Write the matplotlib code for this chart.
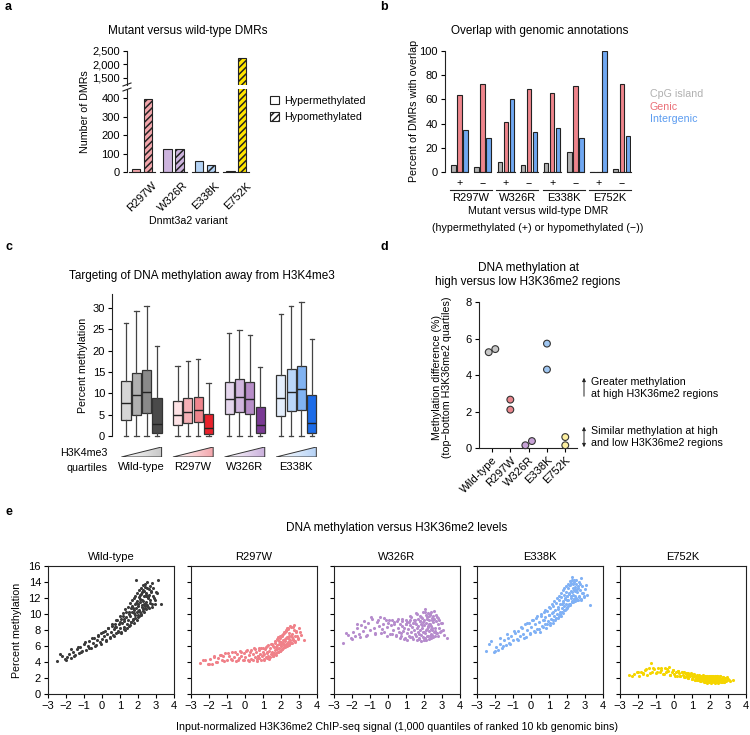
import numpy as np
import matplotlib.pyplot as plt
from matplotlib.patches import Patch, Polygon, FancyArrowPatch
from matplotlib.lines import Line2D
from matplotlib.colors import LinearSegmentedColormap
import matplotlib.transforms as mtransforms

plt.rcParams['font.family'] = ['Liberation Sans', 'DejaVu Sans']
plt.rcParams['font.size'] = 7.7
plt.rcParams['xtick.labelsize'] = 8
plt.rcParams['ytick.labelsize'] = 8
plt.rcParams['axes.linewidth'] = 0.8
plt.rcParams['axes.edgecolor'] = '#222222'
plt.rcParams['xtick.major.width'] = 0.8
plt.rcParams['ytick.major.width'] = 0.8
plt.rcParams['xtick.major.size'] = 3
plt.rcParams['ytick.major.size'] = 3
plt.rcParams['xtick.major.pad'] = 2
plt.rcParams['ytick.major.pad'] = 2
plt.rcParams['hatch.linewidth'] = 1.1

# ---- panel a: DMR counts
variants = ['R297W', 'W326R', 'E338K', 'E752K']
dmr_hyper = [15, 122, 62, 3]
dmr_hypo = [395, 125, 40, 2220]
variant_colors = ['#f4a6ac', '#cdb4de', '#b4d3f5', '#ffe500']

# ---- panel b: overlap with annotations (+ hyper, - hypo per variant)
dmr_signs = ['+', '\u2212'] * 4
cpg_pct = [5.5, 4, 8.5, 6, 7.5, 16.5, 0, 2.5]
genic_pct = [64, 73, 41, 69, 65, 71, 0, 73]
intergenic_pct = [35, 28, 60, 33, 36.5, 28.5, 100, 29.5]

# ---- panel c: boxplots by H3K4me3 quartile
c_groups = ['Wild-type', 'R297W', 'W326R', 'E338K']
c_q1 = [[3.7, 5.0, 5.4, 0.6], [2.5, 3.1, 3.2, 0.4], [5.1, 5.7, 5.1, 0.6], [4.7, 5.8, 6.1, 0.6]]
c_med = [[7.7, 9.5, 10.4, 2.8], [5.0, 5.6, 6.0, 1.8], [8.6, 9.2, 8.7, 2.5], [9.0, 10.4, 11.1, 3.0]]
c_q3 = [[12.9, 14.7, 15.5, 8.8], [8.1, 8.9, 9.1, 5.2], [12.7, 13.4, 12.6, 6.9], [14.3, 15.6, 16.3, 9.5]]
c_whi = [[26.4, 29.2, 30.6, 21.1], [16.5, 17.7, 18.0, 12.4], [24.1, 24.9, 23.8, 16.1], [28.6, 30.5, 31.5, 22.7]]
c_colors = [['#d6d6d6', '#b0b0b0', '#8a8a8a', '#4a4a4a'],
            ['#fde2e5', '#f5b0b6', '#ef858d', '#e8212b'],
            ['#e5d6ed', '#d1b6de', '#b78dc8', '#7a3a94'],
            ['#e4eefc', '#bad6f8', '#81b3f2', '#1c6ce8']]
c_tri_colors = ['#c8c8c8', '#f3a5ab', '#c9aedb', '#b5d2f6']

# ---- panel d: methylation difference, two replicates
d_cats = ['Wild-type', 'R297W', 'W326R', 'E338K', 'E752K']
d_rep1 = [5.25, 2.65, 0.15, 5.72, 0.6]
d_rep2 = [5.42, 2.1, 0.38, 4.3, 0.15]
d_colors = ['#c8c8c8', '#e8868d', '#c7a2d6', '#9fc6f1', '#fcefa0']

# ---- panel e: methylation vs H3K36me2 quantiles
e_titles = ['Wild-type', 'R297W', 'W326R', 'E338K', 'E752K']
e_colors = ['#3a3a3a', '#f08189', '#b68ccd', '#80b1f5', '#f5d500']
e_x = [-2.5, -2.2, -2.05, -1.95, -1.85, -1.7, -1.6, -1.5, -1.4, -1.3,
       -1.2, -1.1, -1.0, -0.9, -0.8, -0.7, -0.6, -0.5, -0.42, -0.35,
       -0.28, -0.2, -0.12, -0.05, 0.02, 0.1, 0.17, 0.24, 0.3, 0.36,
       0.42, 0.48, 0.54, 0.6, 0.65, 0.7, 0.75, 0.8, 0.85, 0.9,
       0.95, 1.0, 1.04, 1.08, 1.12, 1.16, 1.2, 1.24, 1.28, 1.32,
       1.36, 1.4, 1.44, 1.48, 1.52, 1.56, 1.6, 1.63, 1.66, 1.69,
       1.72, 1.75, 1.78, 1.81, 1.84, 1.87, 1.9, 1.93, 1.96, 1.99,
       2.02, 2.05, 2.08, 2.11, 2.14, 2.17, 2.2, 2.23, 2.26, 2.29,
       2.32, 2.35, 2.38, 2.41, 2.44, 2.47, 2.5, 2.54, 2.58, 2.62,
       2.66, 2.7, 2.75, 2.8, 2.86, 2.92, 3.0, 3.1, 3.3,
       -2.35, -2.0, -1.75, -1.55, -1.35, -1.15, -0.95, -0.75, -0.55, -0.38,
       -0.24, -0.08, 0.06, 0.2, 0.33, 0.45, 0.57, 0.68, 0.78, 0.88,
       0.98, 1.06, 1.14, 1.22, 1.3, 1.38, 1.46, 1.54, 1.58, 1.62,
       1.68, 1.74, 1.8, 1.83, 1.86, 1.92, 1.95, 1.98, 2.0, 2.04,
       2.07, 2.1, 2.13, 2.16, 2.19, 2.22, 2.25, 2.28, 2.31, 2.34,
       2.37, 2.4, 2.43, 2.46, 2.49, 2.52, 2.56, 2.6, 2.64, 2.68,
       2.72, 2.78, 2.84, 2.9, 2.96, 3.05, 1.5, 1.7, 1.9, 2.1,
       2.3, 2.45, 2.6, 1.2, 1.0, 0.7, 2.2, 2.0, 1.8, 2.4]
e_wt = [4.1, 4.8, 4.4, 4.6, 5.0, 4.5, 5.3, 4.9, 5.6, 5.1,
        5.9, 5.4, 6.2, 5.5, 6.0, 6.6, 5.8, 6.4, 7.0, 6.1,
        6.8, 7.3, 6.5, 7.6, 6.9, 7.2, 7.9, 6.7, 7.5, 8.2,
        7.1, 7.8, 8.5, 7.4, 8.1, 8.8, 7.6, 8.4, 9.2, 7.9,
        8.7, 8.2, 9.4, 7.8, 8.9, 9.8, 8.4, 9.1, 8.0, 9.6,
        10.3, 8.7, 9.3, 10.0, 8.5, 9.8, 10.7, 9.0, 10.2, 11.0,
        9.4, 10.5, 8.9, 11.3, 9.9, 10.8, 14.3, 10.3, 11.6, 9.6,
        11.0, 12.1, 10.5, 11.5, 9.9, 12.5, 10.9, 11.8, 13.0, 10.4,
        12.2, 11.2, 13.4, 10.8, 12.6, 11.5, 14.0, 12.0, 10.9, 13.1,
        11.8, 12.7, 11.3, 13.9, 12.3, 11.7, 12.8, 14.3, 11.3,
        5.0, 4.3, 5.6, 4.8, 5.9, 5.2, 6.5, 5.7, 7.0, 6.0,
        7.4, 6.3, 7.8, 6.6, 8.3, 7.0, 8.8, 7.3, 9.3, 7.8,
        9.7, 7.6, 10.1, 8.1, 10.6, 8.3, 10.9, 8.6, 11.4, 9.0,
        11.7, 9.2, 12.0, 9.5, 12.3, 9.3, 12.6, 9.9, 11.2, 13.0,
        9.8, 12.4, 10.2, 13.3, 10.0, 12.8, 10.6, 13.6, 10.3, 12.9,
        11.0, 13.8, 10.6, 12.4, 13.2, 11.1, 12.1, 10.7, 13.5, 11.4,
        12.9, 10.9, 13.3, 12.0, 11.2, 12.6, 10.2, 10.8, 11.4, 11.9,
        11.6, 12.2, 12.4, 9.4, 9.0, 8.4, 11.1, 10.4, 10.1, 11.3]
e_r297w = [3.9, 4.2, 3.7, 4.4, 3.8, 4.6, 4.0, 4.5, 4.9, 4.2,
           4.7, 5.1, 4.3, 4.8, 4.4, 5.2, 4.6, 4.1, 5.0, 4.5,
           5.4, 4.7, 4.2, 5.1, 4.6, 5.5, 4.3, 4.9, 5.3, 4.4,
           5.0, 5.7, 4.6, 5.2, 4.1, 4.8, 5.5, 4.5, 5.0, 5.8,
           4.7, 5.3, 4.2, 5.0, 5.6, 4.6, 5.2, 6.0, 4.8, 5.4,
           4.4, 5.7, 5.0, 6.2, 5.3, 4.7, 5.9, 5.1, 6.4, 5.5,
           4.9, 6.1, 5.6, 6.8, 5.2, 6.3, 5.8, 7.0, 5.4, 6.5,
           6.0, 7.3, 5.6, 6.7, 6.1, 7.6, 5.9, 6.9, 6.3, 7.9,
           6.0, 7.1, 6.5, 8.1, 6.2, 7.3, 6.7, 8.4, 6.4, 7.5,
           6.9, 8.6, 7.2, 6.6, 7.8, 7.0, 8.3, 7.4, 6.8,
           4.3, 3.7, 4.7, 4.0, 4.9, 4.1, 5.1, 4.2, 5.2, 4.3,
           5.3, 4.2, 5.4, 4.1, 5.5, 4.3, 5.6, 4.4, 5.7, 4.3,
           5.8, 4.4, 5.9, 4.5, 6.1, 4.6, 6.3, 4.8, 6.0, 5.0,
           6.6, 5.1, 6.9, 5.3, 7.1, 5.4, 7.2, 5.5, 6.3, 7.4,
           5.6, 7.5, 5.8, 7.7, 5.9, 7.8, 6.0, 8.0, 6.2, 8.2,
           6.3, 8.3, 6.1, 7.6, 8.5, 6.5, 7.2, 6.4, 8.4, 6.7,
           8.0, 6.5, 7.9, 7.3, 6.9, 7.7, 5.0, 5.9, 6.6, 6.4,
           7.0, 6.9, 7.1, 5.1, 4.9, 4.7, 6.6, 6.2, 5.7, 7.0]
e_w326r = [6.4, 7.4, 7.0, 7.8, 7.2, 8.2, 7.5, 8.6, 7.9, 8.4,
           7.3, 8.9, 8.0, 9.4, 8.3, 7.6, 9.0, 8.5, 9.6, 8.1,
           8.8, 7.7, 9.2, 8.4, 8.9, 7.5, 8.6, 9.3, 8.0, 8.7,
           7.4, 9.1, 8.2, 7.8, 8.8, 7.2, 8.5, 9.4, 7.9, 8.3,
           7.0, 8.7, 7.6, 9.0, 8.1, 7.3, 8.6, 9.7, 7.8, 8.4,
           7.1, 8.9, 8.0, 9.3, 7.5, 8.7, 8.2, 10.0, 7.7, 8.5,
           6.9, 9.1, 8.0, 8.8, 7.4, 9.5, 8.3, 7.8, 9.0, 6.8,
           8.6, 10.2, 7.6, 8.9, 8.1, 9.6, 7.3, 8.4, 9.2, 7.9,
           8.7, 10.0, 7.5, 8.5, 9.3, 8.0, 9.0, 7.7, 10.4, 8.3,
           9.1, 7.6, 8.8, 9.5, 8.2, 7.9, 8.9, 7.4, 7.0,
           7.6, 6.9, 8.8, 7.1, 9.1, 7.4, 9.6, 7.5, 9.3, 7.6,
           9.5, 7.3, 9.2, 7.5, 9.0, 7.2, 9.4, 7.0, 9.1, 6.9,
           9.3, 6.8, 9.0, 7.1, 9.6, 6.9, 9.2, 7.2, 10.1, 6.7,
           9.4, 7.0, 9.8, 6.6, 9.6, 7.1, 10.3, 6.8, 9.2, 10.6,
           7.0, 9.9, 6.7, 9.4, 7.2, 10.1, 6.9, 9.7, 7.3, 9.9,
           7.0, 10.3, 7.4, 9.5, 9.8, 7.1, 9.4, 7.3, 9.9, 7.6,
           9.6, 7.2, 9.3, 7.8, 8.9, 8.0, 8.9, 7.5, 8.6, 8.0,
           8.7, 8.2, 7.9, 9.2, 8.7, 7.6, 8.5, 7.8, 9.1, 8.1]
e_e338k = [5.4, 6.6, 5.2, 5.9, 5.5, 6.3, 5.8, 6.7, 6.1, 7.0,
           6.4, 7.3, 6.7, 7.6, 6.9, 7.9, 7.2, 8.3, 7.5, 8.7,
           7.1, 8.0, 8.9, 7.6, 8.4, 9.2, 7.9, 8.7, 9.5, 8.1,
           9.0, 7.7, 9.8, 8.5, 9.3, 10.2, 8.8, 9.6, 8.3, 10.4,
           9.1, 9.9, 8.6, 10.7, 9.4, 10.1, 8.9, 11.0, 9.7, 10.5,
           9.2, 11.4, 10.0, 10.9, 9.5, 11.8, 10.3, 11.2, 9.8, 12.1,
           10.7, 11.6, 10.1, 12.4, 11.0, 12.0, 10.5, 12.8, 11.3, 12.3,
           10.8, 13.2, 11.7, 12.6, 11.1, 13.6, 12.0, 12.9, 14.6, 11.5,
           13.2, 12.4, 14.3, 11.9, 13.0, 12.2, 13.8, 11.7, 12.8, 13.5,
           12.1, 13.0, 11.8, 14.5, 12.6, 12.1, 13.1, 12.4, 11.1,
           6.2, 5.4, 7.0, 6.0, 7.5, 6.3, 7.9, 6.7, 8.4, 7.0,
           8.9, 7.5, 9.3, 7.8, 9.7, 8.1, 10.0, 8.4, 10.5, 8.7,
           10.9, 8.9, 11.2, 9.3, 11.6, 9.5, 12.0, 9.8, 12.3, 10.0,
           12.6, 10.2, 13.0, 10.5, 13.3, 10.6, 13.5, 10.9, 12.2, 13.8,
           11.0, 13.6, 11.3, 14.1, 11.2, 13.9, 11.6, 14.3, 11.5, 13.7,
           11.9, 14.0, 11.6, 13.4, 14.2, 12.0, 13.1, 11.8, 14.0, 12.3,
           13.8, 11.9, 13.5, 12.6, 12.2, 13.6, 10.6, 11.3, 11.9, 12.5,
           12.7, 12.9, 13.3, 10.3, 9.9, 9.3, 12.2, 11.8, 11.4, 13.0]
e_e752k = [2.4, 2.5, 2.7, 2.3, 2.8, 2.6, 3.0, 2.4, 3.2, 3.9,
           2.7, 3.1, 2.6, 3.3, 2.8, 3.0, 2.5, 3.2, 2.7, 2.9,
           3.4, 2.4, 2.8, 3.0, 2.5, 2.7, 2.3, 2.9, 2.6, 2.2,
           2.7, 2.4, 2.8, 2.1, 2.5, 2.3, 2.6, 2.0, 2.4, 2.2,
           2.6, 1.9, 2.3, 2.1, 2.5, 1.8, 2.2, 2.0, 2.4, 1.7,
           2.1, 1.9, 2.3, 1.6, 2.0, 2.2, 1.8, 2.4, 1.7, 2.0,
           1.5, 2.2, 1.9, 1.7, 2.3, 1.6, 2.0, 1.8, 2.2, 1.5,
           1.9, 2.1, 1.7, 2.3, 1.6, 1.9, 2.1, 1.5, 1.8, 2.2,
           1.7, 2.0, 1.6, 2.3, 1.8, 1.5, 2.0, 1.7, 2.2, 1.9,
           1.6, 2.1, 1.8, 1.5, 2.0, 1.7, 1.9, 1.6, 1.8,
           2.2, 2.8, 2.5, 3.1, 2.6, 3.3, 2.7, 3.2, 2.5, 3.1,
           2.4, 3.0, 2.3, 2.9, 2.2, 2.7, 2.1, 2.6, 2.0, 2.5,
           1.9, 2.4, 1.8, 2.3, 1.7, 2.4, 1.6, 2.3, 1.7, 2.2,
           1.5, 2.3, 1.6, 2.2, 1.4, 2.1, 1.5, 2.3, 1.6, 2.2,
           1.4, 2.1, 1.5, 2.3, 1.6, 2.0, 1.4, 2.2, 1.5, 2.1,
           1.6, 2.2, 1.4, 2.0, 2.1, 1.5, 2.2, 1.6, 1.9, 1.5,
           2.1, 1.5, 2.0, 1.6, 2.1, 1.7, 1.7, 2.3, 2.1, 1.7,
           1.6, 2.0, 1.5, 1.9, 2.5, 2.6, 1.8, 2.0, 1.6, 2.2]

W, H = 750, 735
fig = plt.figure(figsize=(7.5, 7.35), dpi=100)


def fx(px):
    return px / W


def fy(py):
    return 1 - py / H


def add_ax(l, t, r, b):
    # axes box given in pixels from the top-left corner
    return fig.add_axes([l / W, 1 - b / H, (r - l) / W, (b - t) / H])


def ftext(px, py, s, **kw):
    fig.text(fx(px), fy(py), s, **kw)


EDGE = '#222222'
TITLE = 8.5

# ================= a =================
ax_top = add_ax(127, 51, 252, 85)
ax_bot = add_ax(127, 89, 252, 172)
xa = np.arange(len(variants))
for ax in (ax_top, ax_bot):
    ax.bar(xa - 0.19, dmr_hyper, 0.27, color=variant_colors, edgecolor=EDGE, lw=0.8)
    ax.bar(xa + 0.19, dmr_hypo, 0.27, color=variant_colors, edgecolor=EDGE, lw=0.8, hatch='/////')
    ax.set_xlim(-0.47, 3.5)
    for s in ('top', 'right', 'bottom'):
        ax.spines[s].set_visible(False)
ax_top.set_ylim(1230, 2500)
ax_top.set_yticks([1500, 2000, 2500])
ax_top.set_yticklabels(['1,500', '2,000', '2,500'])
ax_top.set_xticks([])
ax_bot.set_ylim(0, 449)
ax_bot.set_yticks([0, 100, 200, 300, 400])
ax_bot.set_xticks(xa + 0.3)
ax_bot.set_xticklabels(variants, rotation=45, ha='right', va='top', rotation_mode='anchor')
ax_bot.tick_params(axis='x', length=0, pad=6)
for x in xa:
    ax_bot.plot([x - 0.42, x + 0.42], [0, 0], color=EDGE, lw=0.8, clip_on=False)
# axis break marks
for yb in (84, 89):
    fig.add_artist(Line2D([fx(123), fx(131)], [fy(yb + 2), fy(yb - 1)], color=EDGE, lw=0.8))
ftext(188, 31, 'Mutant versus wild-type DMRs', ha='center', va='center', fontsize=TITLE)
ftext(85, 112, 'Number of DMRs', ha='center', va='center', rotation=90)
ftext(188, 221, 'Dnmt3a2 variant', ha='center', va='center')
handles = [Patch(facecolor='white', edgecolor=EDGE, lw=0.8),
           Patch(facecolor='white', edgecolor=EDGE, lw=0.8, hatch='/////')]
fig.legend(handles, ['Hypermethylated', 'Hypomethylated'], loc='center left',
           bbox_to_anchor=(fx(265), fy(109)), frameon=False, handlelength=0.8,
           handleheight=0.8, handletextpad=0.5, labelspacing=0.6, borderpad=0)

# ================= b =================
axb = add_ax(445, 51, 631, 172)
xb = np.arange(len(dmr_signs))
axb.bar(xb - 0.26, cpg_pct, 0.19, color='#b4b4b4', edgecolor=EDGE, lw=0.8)
axb.bar(xb, genic_pct, 0.19, color='#ef858c', edgecolor=EDGE, lw=0.8)
axb.bar(xb + 0.26, intergenic_pct, 0.19, color='#70a8f2', edgecolor=EDGE, lw=0.8)
axb.set_xlim(-0.62, 7.4)
axb.set_ylim(0, 100)
axb.set_yticks([0, 20, 40, 60, 80, 100])
axb.set_xticks([])
for s in ('top', 'right', 'bottom'):
    axb.spines[s].set_visible(False)
tb = mtransforms.blended_transform_factory(axb.transData, axb.transAxes)
for x, sgn in zip(xb, dmr_signs):
    axb.plot([x - 0.38, x + 0.38], [0, 0], color=EDGE, lw=0.8, clip_on=False)
    axb.text(x, -0.09, sgn, transform=tb, ha='center', va='center')
for k, v in enumerate(variants):
    axb.plot([2 * k - 0.4, 2 * k + 1.4], [-0.148, -0.148], transform=tb, color=EDGE,
             lw=0.8, clip_on=False)
    axb.text(2 * k + 0.5, -0.215, v, transform=tb, ha='center', va='center', fontsize=8)
ftext(540, 31, 'Overlap with genomic annotations', ha='center', va='center', fontsize=TITLE)
ftext(414, 111, 'Percent of DMRs with overlap', ha='center', va='center', rotation=90)
ftext(538, 211, 'Mutant versus wild-type DMR', ha='center', va='center')
ftext(538, 228, '(hypermethylated (+) or hypomethylated (\u2212))', ha='center', va='center')
for py, lab, col in [(94, 'CpG island', '#b0b0b0'), (107, 'Genic', '#ea6f77'),
                     (119, 'Intergenic', '#5c9cf0')]:
    ftext(650, py, lab, ha='left', va='center', color=col)

# ================= c =================
axc = add_ax(112, 294, 322, 436)
stats, pos, fcols = [], [], []
for g in range(len(c_groups)):
    for i in range(4):
        stats.append(dict(med=c_med[g][i], q1=c_q1[g][i], q3=c_q3[g][i],
                          whislo=0, whishi=c_whi[g][i]))
        pos.append(g * 5 + i)
        fcols.append(c_colors[g][i])
art = axc.bxp(stats, positions=pos, widths=0.88, patch_artist=True, showfliers=False,
              capwidths=0.42,
              boxprops=dict(edgecolor='#333333', lw=0.9),
              medianprops=dict(color='#222222', lw=1.0),
              whiskerprops=dict(color='#444444', lw=0.9),
              capprops=dict(color='#444444', lw=0.9))
for patch, col in zip(art['boxes'], fcols):
    patch.set_facecolor(col)
for key in art:
    for a in art[key]:
        a.set_clip_on(False)
axc.set_xlim(-1.36, 19.0)
axc.set_ylim(0, 33.3)
axc.set_yticks([0, 5, 10, 15, 20, 25, 30])
axc.set_xticks([])
for s in ('top', 'right', 'bottom'):
    axc.spines[s].set_visible(False)
ftext(202, 276, 'Targeting of DNA methylation away from H3K4me3', ha='center', va='center',
      fontsize=TITLE)
ftext(83, 365, 'Percent methylation', ha='center', va='center', rotation=90)

axt = add_ax(112, 447, 322, 457)
axt.set_xlim(-1.36, 19.0)
axt.set_ylim(0, 1)
axt.axis('off')
grad = np.linspace(0, 1, 64).reshape(1, -1)
for g, col in enumerate(c_tri_colors):
    x0, x1 = g * 5 - 0.45, g * 5 + 3.45
    cmap = LinearSegmentedColormap.from_list('tri', ['#ffffff', col])
    im = axt.imshow(grad, cmap=cmap, extent=[x0, x1, 0, 1], aspect='auto')
    tri = Polygon([(x0, 0), (x1, 0), (x1, 1)], closed=True, facecolor='none',
                  edgecolor='#333333', lw=0.7)
    axt.add_patch(tri)
    im.set_clip_path(tri)
    axt.text(g * 5 + 1.5, -1.0, c_groups[g], ha='center', va='center', fontsize=8)
ftext(108, 453, 'H3K4me3', ha='right', va='center')
ftext(108, 468, 'quartiles', ha='right', va='center')

# ================= d =================
axd = add_ax(479, 302, 577, 448)
xd = np.arange(len(d_cats))
jit = np.array([0.18, 0, 0.18, 0, 0])
axd.scatter(xd - jit, d_rep1, s=24, c=d_colors, edgecolors='#333333', linewidths=0.8,
            clip_on=False, zorder=3)
axd.scatter(xd + jit, d_rep2, s=24, c=d_colors, edgecolors='#333333', linewidths=0.8,
            clip_on=False, zorder=3)
axd.set_xlim(-0.71, 4.64)
axd.set_ylim(0, 8)
axd.set_yticks([0, 2, 4, 6, 8])
axd.set_xticks(xd)
axd.set_xticklabels(d_cats, rotation=45, ha='right', va='top', rotation_mode='anchor')
for s in ('top', 'right'):
    axd.spines[s].set_visible(False)
ftext(528, 268, 'DNA methylation at', ha='center', va='center', fontsize=TITLE)
ftext(528, 282, 'high versus low H3K36me2 regions', ha='center', va='center', fontsize=TITLE)
ftext(442, 377, 'Methylation difference (%)\n(top\u2212bottom H3K36me2 quartiles)',
      ha='center', va='center', rotation=90, linespacing=1.1)
fig.add_artist(FancyArrowPatch((fx(584), fy(399)), (fx(584), fy(375)),
                               transform=fig.transFigure, arrowstyle='-|>',
                               mutation_scale=5, lw=0.7, color=EDGE))
fig.add_artist(FancyArrowPatch((fx(584), fy(424)), (fx(584), fy(450)),
                               transform=fig.transFigure, arrowstyle='<|-|>',
                               mutation_scale=5, lw=0.7, color=EDGE))
ftext(591, 382, 'Greater methylation', ha='left', va='center')
ftext(591, 394, 'at high H3K36me2 regions', ha='left', va='center')
ftext(591, 431, 'Similar methylation at high', ha='left', va='center')
ftext(591, 443, 'and low H3K36me2 regions', ha='left', va='center')

# ================= e =================
e_ys = [e_wt, e_r297w, e_w326r, e_e338k, e_e752k]
lefts = [48, 191, 334, 477, 620]
for k, (l, ys) in enumerate(zip(lefts, e_ys)):
    ax = add_ax(l, 566, l + 126, 694)
    ax.scatter(e_x, ys, s=5, color=e_colors[k], linewidths=0)
    ax.set_xlim(-3, 4)
    ax.set_ylim(0, 16)
    ax.set_xticks(range(-3, 5))
    ax.set_yticks(range(0, 17, 2))
    if k > 0:
        ax.set_yticklabels([])
    ax.set_title(e_titles[k], fontsize=8, pad=4)
ftext(397, 528, 'DNA methylation versus H3K36me2 levels', ha='center', va='center', fontsize=TITLE)
ftext(17, 630, 'Percent methylation', ha='center', va='center', rotation=90)
ftext(397, 727, 'Input-normalized H3K36me2 ChIP-seq signal (1,000 quantiles of ranked 10 kb genomic bins)',
      ha='center', va='center')

# panel letters
for px, py, lab in [(5, 7, 'a'), (380, 7, 'b'), (5, 247, 'c'), (380, 247, 'd'), (5, 512, 'e')]:
    ftext(px, py, lab, ha='left', va='center', fontsize=9, fontweight='bold')

fig.savefig('out.png', dpi=100)
